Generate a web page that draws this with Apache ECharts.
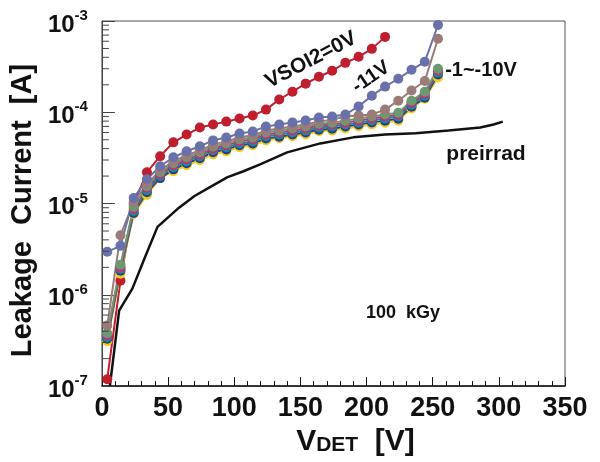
<!DOCTYPE html>
<html>
<head>
<meta charset="utf-8">
<script src="https://cdn.jsdelivr.net/npm/echarts@6/dist/echarts.min.js"></script>
<style>
html,body{margin:0;padding:0;background:#fff;}
#chart{width:600px;height:462px;}
</style>
</head>
<body>
<div id="chart"></div>
<script>
// detector bias points [V]
const vdet = [4,14,24,34,44,54,64,74,84,94,104,114,124,134,144,154,164,174,184,194,204,214,224,234,244,254];

// leakage current [A] per VSOI2 setting
const vsoi0 = [1.19e-7,1.43e-6,9.9e-6,2.2e-5,3.3e-5,4.68e-5,5.7e-5,6.8e-5,7.35e-5,7.9e-5,8.55e-5,9.2e-5,1.07e-4,1.38e-4,1.68e-4,2.06e-4,2.45e-4,2.85e-4,3.48e-4,4.05e-4,4.95e-4,6.7e-4];
const vsoi11 = [2.96e-6,3.44e-6,1.15e-5,1.85e-5,2.56e-5,3.21e-5,3.74e-5,4.24e-5,4.92e-5,5.3e-5,5.86e-5,6.17e-5,7.0e-5,7.35e-5,7.73e-5,8.13e-5,8.77e-5,8.99e-5,9.45e-5,1.16e-4,1.52e-4,1.91e-4,2.33e-4,2.92e-4,3.57e-4,9.04e-4];
const vsoi10 = [4.6e-7,4.5e-6,1.04e-5,1.63e-5,2.32e-5,2.9e-5,3.38e-5,3.83e-5,4.45e-5,4.8e-5,5.3e-5,5.6e-5,6.3e-5,6.65e-5,7.0e-5,7.35e-5,7.9e-5,8.3e-5,9.0e-5,9.2e-5,9.45e-5,1.07e-4,1.34e-4,1.73e-4,2.2e-4,6.4e-4];
const vsoiGreen = [3.8e-7,2.14e-6,9.2e-6,1.55e-5,2.2e-5,2.76e-5,3.21e-5,3.64e-5,4.23e-5,4.56e-5,5.05e-5,5.3e-5,6.0e-5,6.3e-5,6.65e-5,7.0e-5,7.5e-5,7.7e-5,8.1e-5,8.55e-5,9.0e-5,9.45e-5,9.9e-5,1.34e-4,1.68e-4,3.0e-4];
const vsoiMagenta = [3.6e-7,2.0e-6,8.7e-6,1.48e-5,2.1e-5,2.63e-5,3.05e-5,3.46e-5,4.0e-5,4.35e-5,4.8e-5,5.05e-5,5.7e-5,6.0e-5,6.3e-5,6.65e-5,7.15e-5,7.35e-5,7.7e-5,8.1e-5,8.55e-5,9.0e-5,9.4e-5,1.27e-4,1.6e-4,2.85e-4];
const vsoiTeal = [3.45e-7,1.93e-6,8.3e-6,1.4e-5,2.0e-5,2.5e-5,2.9e-5,3.3e-5,3.83e-5,4.13e-5,4.56e-5,4.8e-5,5.45e-5,5.7e-5,6.0e-5,6.3e-5,6.8e-5,7.0e-5,7.35e-5,7.7e-5,8.15e-5,8.55e-5,9.0e-5,1.21e-4,1.52e-4,2.72e-4];
const vsoiBlue = [3.3e-7,1.84e-6,7.9e-6,1.33e-5,1.9e-5,2.37e-5,2.76e-5,3.13e-5,3.64e-5,3.92e-5,4.35e-5,4.56e-5,5.15e-5,5.4e-5,5.7e-5,6.0e-5,6.45e-5,6.6e-5,7.0e-5,7.35e-5,7.75e-5,8.1e-5,8.5e-5,1.15e-4,1.44e-4,2.6e-4];
const vsoiYellow = [3.1e-7,1.7e-6,7.7e-6,1.24e-5,1.9e-5,2.26e-5,2.63e-5,2.98e-5,3.46e-5,3.73e-5,4.13e-5,4.35e-5,4.9e-5,5.2e-5,5.45e-5,5.7e-5,6.2e-5,6.3e-5,6.65e-5,7.0e-5,7.35e-5,7.7e-5,8.1e-5,1.1e-4,1.41e-4,2.4e-4];

// before irradiation
const preV = [6,13,23,33,42,57,70,83,95,107,120,140,165,190,214,237,262,286,296,303];
const preI = [1.0e-7,6.7e-7,1.17e-6,2.68e-6,5.55e-6,8.7e-6,1.21e-5,1.55e-5,1.95e-5,2.26e-5,2.7e-5,3.64e-5,4.56e-5,5.31e-5,5.7e-5,5.9e-5,6.3e-5,6.8e-5,7.35e-5,7.9e-5];

const xTicks = [0,50,100,150,200,250,300,350];
const yDecades = [1e-7,1e-6,1e-5,1e-4,1e-3];

const sans = "'Liberation Sans',Arial,sans-serif";

const pairs = (xs, ys) => ys.map((y, i) => [xs[i], y]);

// minor log ticks 2..9 x 10^n
const minorVals = [];
for (let d = 0; d < yDecades.length - 1; d++) {
    for (let m = 2; m <= 9; m++) minorVals.push(yDecades[d] * m);
}

const dotSeries = (data, color) => ({
    type: 'line',
    data: data,
    symbol: 'circle',
    symbolSize: 10,
    lineStyle: {color: color, width: 2},
    itemStyle: {color: color},
    z: 3
});

const chart = echarts.init(document.getElementById('chart'));
chart.setOption({
    animation: false,
    grid: {left: 98, right: 35, top: 21, bottom: 74, show: true, borderColor: '#555', borderWidth: 1},
    xAxis: {
        type: 'value', min: xTicks[0], max: xTicks[xTicks.length - 1], interval: 50,
        name: '{a|V}{b|DET}{a|  [V]}', nameLocation: 'middle', nameGap: 36,
        nameTextStyle: {
            padding: [0, 0, 0, 44],
            rich: {
                a: {fontFamily: sans, fontWeight: 'bold', fontSize: 30, color: '#111'},
                b: {fontFamily: sans, fontWeight: 'bold', fontSize: 21, color: '#111', padding: [7, 0, 0, 0]}
            }
        },
        axisLine: {lineStyle: {color: '#111', width: 1.5}},
        axisTick: {inside: true, length: 9, lineStyle: {color: '#111'}},
        minorTick: {show: true, splitNumber: 5, length: 5, lineStyle: {color: '#111'}},
        splitLine: {show: false},
        axisLabel: {fontFamily: sans, fontWeight: 'bold', fontSize: 27, color: '#111', margin: 9}
    },
    yAxis: {
        type: 'log', logBase: 10, min: yDecades[0], max: yDecades[yDecades.length - 1],
        name: 'Leakage  Current  [A]', nameLocation: 'middle', nameGap: 50,
        nameTextStyle: {fontFamily: sans, fontWeight: 'bold', fontSize: 29, color: '#111', padding: [0, 14, 0, 0]},
        axisLine: {show: true, lineStyle: {color: '#444', width: 1}},
        axisTick: {inside: true, length: 13, lineStyle: {color: '#444'}},
        splitLine: {show: false},
        axisLabel: {
            margin: 14,
            formatter: v => '{b|10}{s|' + Math.round(Math.log10(v)) + '}',
            rich: {
                b: {fontFamily: sans, fontWeight: 'bold', fontSize: 24, color: '#111', padding: [8, 0, 0, 0]},
                s: {fontFamily: sans, fontWeight: 'bold', fontSize: 15, color: '#111', padding: [0, 0, 10, 0]}
            }
        }
    },
    series: [
        dotSeries(pairs(vdet, vsoi0), '#be1e2d'),
        dotSeries(pairs(vdet, vsoiYellow), '#f0cf1c'),
        dotSeries(pairs(vdet, vsoiBlue), '#24408f'),
        dotSeries(pairs(vdet, vsoiTeal), '#1f8a93'),
        dotSeries(pairs(vdet, vsoiMagenta), '#c2307c'),
        dotSeries(pairs(vdet, vsoiGreen), '#6b9970'),
        dotSeries(pairs(vdet, vsoi10), '#9a7b77'),
        dotSeries(pairs(vdet, vsoi11), '#6a70aa'),
        {
            type: 'line', data: pairs(preV, preI), symbol: 'none',
            lineStyle: {color: '#111', width: 2.5}, z: 2
        },
        {
            type: 'custom', silent: true, z: 5,
            data: minorVals.map(v => [0, v]),
            renderItem: (params, api) => {
                const p = api.coord([0, api.value(1)]);
                return {type: 'line', shape: {x1: p[0], y1: p[1], x2: p[0] + 7, y2: p[1]},
                        style: {stroke: '#444', lineWidth: 1}};
            }
        }
    ],
    graphic: [
        {type: 'text', x: 311, y: 60, rotation: 0.48,
         style: {text: 'VSOI2=0V', font: 'bold 21px ' + sans, fill: '#111', align: 'center', verticalAlign: 'middle'}},
        {type: 'text', x: 371, y: 77, rotation: 0.6,
         style: {text: '-11V', font: 'bold 20px ' + sans, fill: '#111', align: 'center', verticalAlign: 'middle'}},
        {type: 'text', x: 481, y: 70,
         style: {text: '-1~-10V', font: 'bold 20px ' + sans, fill: '#111', align: 'center', verticalAlign: 'middle'}},
        {type: 'text', x: 486, y: 154,
         style: {text: 'preirrad', font: 'bold 21px ' + sans, fill: '#111', align: 'center', verticalAlign: 'middle'}},
        {type: 'text', x: 403, y: 313,
         style: {text: '100  kGy', font: 'bold 18px ' + sans, fill: '#111', align: 'center', verticalAlign: 'middle'}}
    ]
});
</script>
</body>
</html>
